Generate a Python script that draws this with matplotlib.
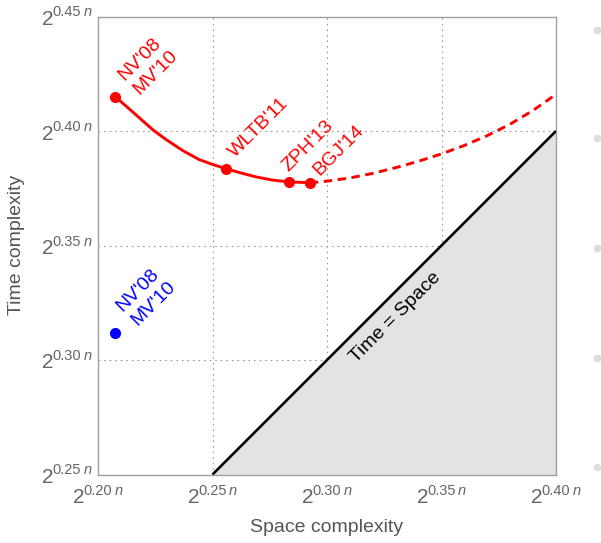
import matplotlib
matplotlib.use("Agg")
import matplotlib.pyplot as plt
from matplotlib.lines import Line2D
from matplotlib.transforms import offset_copy

plt.rcParams["font.family"] = ["Liberation Sans", "DejaVu Sans"]

# Classical sieve results (space exponent, time exponent)
classical_names = ["NV'08\nMV'10", "WLTB'11", "ZPH'13", "BGJ'14"]
classical_space = [0.2075, 0.2557, 0.2833, 0.2925]
classical_time = [0.4150, 0.3836, 0.3778, 0.3774]

# Quantum variant
quantum_names = ["NV'08\nMV'10"]
quantum_space = [0.2075]
quantum_time = [0.3120]

# Trade-off curve, solid part
curve_space = [0.2075, 0.2153, 0.2241, 0.2298, 0.2371, 0.2442, 0.2500,
               0.2557, 0.2616, 0.2688, 0.2760, 0.2833, 0.2925]
curve_time = [0.4150, 0.4082, 0.4004, 0.3962, 0.3914, 0.3875, 0.3854,
              0.3836, 0.3819, 0.3800, 0.3786, 0.3778, 0.3774]

# Trade-off curve, dashed extension
ext_space = [0.2925, 0.3000, 0.3100, 0.3200, 0.3300, 0.3400, 0.3500,
             0.3600, 0.3700, 0.3800, 0.3900, 0.4000]
ext_time = [0.3774, 0.3781, 0.3795, 0.3815, 0.3840, 0.3868, 0.3900,
            0.3937, 0.3980, 0.4030, 0.4090, 0.4160]

x_ticks = [0.20, 0.25, 0.30, 0.35, 0.40]
y_ticks = [0.25, 0.30, 0.35, 0.40, 0.45]
x_tick_exponents = ["0.20", "0.25", "0.30", "0.35", "0.40"]
y_tick_exponents = ["0.25", "0.30", "0.35", "0.40", "0.45"]

W, H = 601, 543
fig = plt.figure(figsize=(W / 100, H / 100), dpi=100)
L, R, T, B = 98, 556, 16.5, 474.5
ax = fig.add_axes([L / W, 1 - B / H, (R - L) / W, (B - T) / H])

RED = "#ff0000"
BLUE = "#0000ff"
FRAME = "#a0a0a0"
TICK = "#666666"

ax.set_xlim(0.20, 0.40)
ax.set_ylim(0.25, 0.45)

# Region where time < space
diag = [0.25, 0.40]
ax.fill_between(diag, diag, [0.25, 0.25], color="#e3e3e3", zorder=1, lw=0)
ax.plot(diag, diag, color="black", lw=1.9, zorder=3, solid_capstyle="butt")
ax.text(0.3301, 0.3188, "Time = Space", rotation=45, ha="center", va="center",
        fontsize=14, color="black", zorder=5)

# Grid
for v in x_ticks[1:-1]:
    ax.axvline(v, color="#999999", lw=0.8, ls=(0, (1.5, 3.5)), zorder=0)
for v in y_ticks[1:-1]:
    ax.axhline(v, color="#999999", lw=0.8, ls=(0, (1.5, 3.5)), zorder=0)

# Curves
ax.plot(curve_space, curve_time, color=RED, lw=2.1, zorder=4,
        solid_capstyle="butt", solid_joinstyle="round")
ax.plot(ext_space, ext_time, color=RED, lw=2.1, ls=(0, (2.9, 1.9)), zorder=4)
ax.plot(classical_space, classical_time, "o", color=RED, ms=7, zorder=6)
ax.plot(quantum_space, quantum_time, "o", color=BLUE, ms=7, zorder=6)

# Labels
ax.annotate(classical_names[0], (classical_space[0], classical_time[0]),
            xytext=(33, 31), textcoords="offset pixels", rotation=45,
            ha="center", va="center", fontsize=14, color=RED,
            linespacing=1.25, multialignment="left")
single_offsets = [(9, 11), (0, 10), (10, 7)]
for name, xs, ys, off in zip(classical_names[1:], classical_space[1:],
                             classical_time[1:], single_offsets):
    ax.annotate(name, (xs, ys), xytext=off, textcoords="offset pixels",
                rotation=45, rotation_mode="anchor", ha="left",
                va="baseline", fontsize=14, color=RED)
ax.annotate(quantum_names[0], (quantum_space[0], quantum_time[0]),
            xytext=(31, 36), textcoords="offset pixels", rotation=45,
            ha="center", va="center", fontsize=14, color=BLUE,
            linespacing=1.25, multialignment="left")

# Axes styling
for s in ax.spines.values():
    s.set_color(FRAME)
    s.set_linewidth(1.0)
ax.set_xticks(x_ticks)
ax.set_yticks(y_ticks)
ax.set_xticklabels([])
ax.set_yticklabels([])
ax.tick_params(axis="both", length=0)

# Tick labels of the form 2^{e n}, built from separate pieces so the
# superscript can be larger than mathtext would make it
renderer = fig.canvas.get_renderer()


def _piece(s, size, style="normal"):
    t = ax.text(0, 0, s, fontsize=size, fontstyle=style, color=TICK,
                ha="left", va="baseline", clip_on=False)
    return t, t.get_window_extent(renderer).width


def power_label(pos, exponent, trans, base_dy, raise_px, align, pad=0.0):
    pieces = [_piece("2", 15), _piece(exponent, 10.5),
              _piece("n", 10.5, "italic")]
    gaps = [-1.5, 2.5]
    total = sum(w for _, w in pieces) + sum(gaps)
    x = -total / 2 if align == "center" else -total - pad
    for i, (t, w) in enumerate(pieces):
        dy = base_dy if i == 0 else base_dy + raise_px
        t.set_position(pos)
        t.set_transform(offset_copy(trans, fig=fig, x=x, y=dy, units="dots"))
        x += w + (gaps[i] if i < len(gaps) else 0)


for v, e in zip(x_ticks, x_tick_exponents):
    power_label((v, 0), e, ax.get_xaxis_transform(), -28.8, 8.5, "center")
for v, e in zip(y_ticks, y_tick_exponents):
    power_label((0, v), e, ax.get_yaxis_transform(), -8.5, 8.5, "right",
                pad=6.5)

fig.text(327 / W, 1 - 528 / H, "Space complexity", ha="center", va="center",
         fontsize=14, color="#555555")
fig.text(17 / W, 1 - 245 / H, "Time complexity", ha="center", va="center",
         rotation=90, fontsize=14, color="#555555")

# Small decorative dots along the right edge
for yp in [30, 138, 248, 358, 467]:
    fig.add_artist(Line2D([597 / W], [1 - yp / H], transform=fig.transFigure,
                          marker="o", ms=4.5, color="#dddddd", lw=0))

fig.savefig("out.png", dpi=100)
